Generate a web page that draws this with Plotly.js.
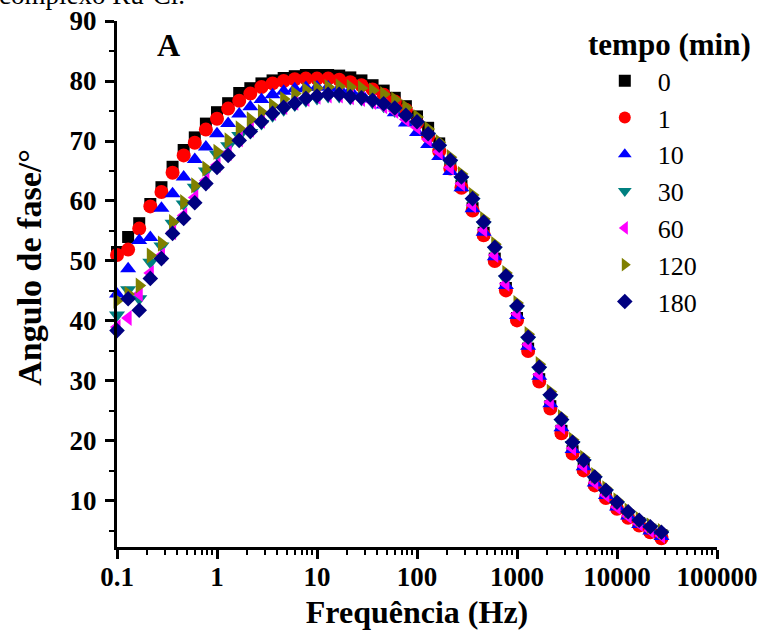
<!DOCTYPE html>
<html>
<head>
<meta charset="utf-8">
<script src="https://cdn.plot.ly/plotly-3.0.1.min.js"></script>
<style>html,body{margin:0;padding:0;background:#fff;}#chart{width:762px;height:630px;}</style>
</head>
<body>
<div id="chart"></div>
<script>
// Frequencies (Hz), 9 points per decade
var freq = [0.1, 0.1292, 0.1668, 0.2154, 0.2783, 0.3594, 0.4642, 0.5995, 0.7743,
  1, 1.292, 1.668, 2.154, 2.783, 3.594, 4.642, 5.995, 7.743,
  10, 12.92, 16.68, 21.54, 27.83, 35.94, 46.42, 59.95, 77.43,
  100, 129.2, 166.8, 215.4, 278.3, 359.4, 464.2, 599.5, 774.3,
  1000, 1292, 1668, 2154, 2783, 3594, 4642, 5995, 7743,
  10000, 12915, 16681, 21544, 27826];

var seriesNames = ["0", "1", "10", "30", "60", "120", "180"];

var phase0 = [51.5, 54.0, 56.3, 59.5, 62.3, 65.7, 68.5, 70.6, 72.9, 74.8,
  76.3, 78.0, 78.8, 79.6, 80.1, 80.5, 80.8, 81.0, 81.0, 81.0,
  80.9, 80.6, 80.1, 79.3, 78.4, 77.2, 75.8, 74.1, 72.2, 69.6,
  66.0, 62.5, 58.8, 54.7, 50.4, 45.5, 40.5, 35.4, 30.3, 25.8,
  21.7, 18.3, 15.5, 13.0, 10.9, 9.1, 7.6, 6.3, 5.2, 4.3];

var phase1 = [51.0, 51.9, 55.4, 59.1, 61.5, 64.7, 67.6, 69.7, 71.9, 73.7,
  75.4, 76.7, 77.9, 79.0, 79.6, 80.0, 80.3, 80.4, 80.4, 80.4,
  80.2, 79.8, 79.3, 78.6, 77.7, 76.6, 75.2, 73.0, 70.8, 68.3,
  65.4, 62.2, 58.4, 54.3, 50.0, 45.1, 40.1, 35.0, 29.9, 25.4,
  21.3, 17.9, 15.1, 12.6, 10.5, 8.7, 7.2, 5.9, 4.8, 3.8];

var phase10 = [44.5, 48.7, 53.4, 53.9, 58.8, 61.2, 64.0, 66.9, 69.0, 71.2,
  72.9, 74.5, 75.7, 76.9, 77.7, 78.3, 78.7, 78.9, 79.0, 79.0,
  78.8, 78.4, 77.8, 77.0, 76.0, 74.7, 73.0, 71.4, 69.4, 67.4,
  64.9, 62.2, 58.7, 54.8, 50.7, 45.9, 40.9, 35.8, 30.8, 26.2,
  22.2, 18.6, 15.7, 13.0, 10.9, 9.0, 7.5, 6.1, 5.0, 4.1];

var phase30 = [41.0, 45.2, 43.7, 49.8, 52.5, 56.3, 59.5, 62.3, 65.0, 67.8,
  69.2, 70.9, 71.4, 72.9, 74.2, 75.2, 76.0, 76.7, 77.1, 77.4,
  77.4, 77.1, 76.9, 76.4, 75.8, 75.0, 73.8, 72.7, 70.8, 68.8,
  66.3, 63.5, 59.9, 56.0, 51.8, 47.0, 42.0, 36.8, 31.8, 27.2,
  23.1, 19.4, 16.4, 13.6, 11.4, 9.4, 7.8, 6.5, 5.4, 4.5];

var phase60 = [39.0, 40.5, 44.5, 48.0, 50.9, 54.8, 57.6, 60.6, 63.4, 66.0,
  68.0, 70.3, 71.9, 73.4, 74.7, 75.7, 76.4, 77.0, 77.4, 77.6,
  77.6, 77.3, 77.0, 76.5, 75.8, 75.0, 73.6, 72.3, 70.3, 68.2,
  65.6, 62.9, 59.3, 55.2, 51.0, 46.2, 41.2, 36.1, 31.1, 26.5,
  22.4, 18.8, 15.8, 13.1, 11.0, 9.0, 7.5, 6.2, 5.1, 4.2];

var phase120 = [43.4, 44.5, 45.9, 50.9, 52.9, 56.5, 59.8, 62.6, 65.4, 68.2,
  70.1, 72.1, 73.6, 74.8, 75.9, 77.0, 77.9, 78.5, 78.8, 79.0,
  79.1, 79.0, 78.8, 78.4, 77.8, 76.9, 75.6, 74.0, 72.0, 69.8,
  67.3, 64.5, 61.0, 57.0, 52.8, 48.0, 43.0, 37.8, 32.8, 28.2,
  24.0, 20.2, 17.2, 14.3, 12.1, 10.1, 8.4, 7.0, 5.9, 5.0];

var phase180 = [38.4, 43.7, 41.8, 47.1, 50.4, 54.6, 57.1, 59.7, 62.9, 65.6,
  67.6, 70.1, 71.6, 73.2, 74.6, 75.6, 76.3, 77.1, 77.5, 77.8,
  77.8, 77.4, 77.2, 76.8, 76.2, 75.5, 74.3, 73.2, 71.2, 69.3,
  66.8, 64.0, 60.4, 56.5, 52.3, 47.5, 42.5, 37.3, 32.3, 27.7,
  23.6, 19.8, 16.8, 14.0, 11.8, 9.8, 8.2, 6.8, 5.7, 4.8];

var xTickVals = [0.1, 1, 10, 100, 1000, 10000, 100000];
var xTickText = ["0.1", "1", "10", "100", "1000", "10000", "100000"];
var yTickVals = [10, 20, 30, 40, 50, 60, 70, 80, 90];

var allPhases = [phase0, phase1, phase10, phase30, phase60, phase120, phase180];
var colors = ["#000000", "#ff0000", "#0000ff", "#008080", "#ff00ff", "#808000", "#000080"];
var symbols = ["square", "circle", "triangle-up", "triangle-down", "triangle-left", "triangle-right", "diamond"];
var sizes = [12, 14, 14, 14, 14, 14, 12];

var serif = "Liberation Serif";

var traces = allPhases.map(function (ph, i) {
  return {
    x: freq, y: ph, type: "scatter", mode: "markers",
    name: "\u00a0\u00a0" + seriesNames[i], legendgroup: "g" + i,
    marker: {symbol: symbols[i], color: colors[i], size: sizes[i], line: {width: 0}},
    cliponaxis: false
  };
});

var layout = {
  width: 762, height: 630,
  margin: {l: 117, r: 45, t: 21, b: 83},
  paper_bgcolor: "#fff", plot_bgcolor: "#fff",
  font: {family: serif, color: "#000"},
  showlegend: true,
  legend: {
    x: 0.813, xanchor: "left", y: 0.931, yanchor: "top",
    font: {family: serif, size: 26, color: "#000"},
    bgcolor: "rgba(0,0,0,0)", borderwidth: 0,
    traceorder: "grouped", tracegroupgap: 0, itemsizing: "constant"
  },
  xaxis: {
    type: "log", range: [-1, 5],
    showline: true, linewidth: 3, linecolor: "#000", mirror: false,
    showgrid: false, zeroline: false,
    ticks: "outside", ticklen: 9, tickwidth: 3, tickcolor: "#000",
    tickmode: "array", tickvals: xTickVals, ticktext: xTickText,
    tickfont: {family: serif, size: 27, color: "#000", weight: "bold"},
    ticklabelstandoff: -5,
    minor: {ticks: "outside", ticklen: 5, tickwidth: 2, tickcolor: "#000", dtick: "D1", showgrid: false},
    title: {text: "Frequência (Hz)", font: {family: serif, size: 32, color: "#000", weight: "bold"}, standoff: 16}
  },
  yaxis: {
    range: [2.33, 90],
    showline: true, linewidth: 3, linecolor: "#000", mirror: false,
    showgrid: false, zeroline: false,
    ticks: "outside", ticklen: 9, tickwidth: 3, tickcolor: "#000",
    tickmode: "array", tickvals: yTickVals,
    tickfont: {family: serif, size: 27, color: "#000", weight: "bold"},
    ticklabelstandoff: 3,
    minor: {ticks: "outside", ticklen: 5, tickwidth: 2, tickcolor: "#000", dtick: 5, tick0: 0, showgrid: false}
  },
  annotations: [
    {xref: "paper", yref: "paper", x: -0.145, y: 0.531, xanchor: "center", yanchor: "middle",
     textangle: -90, text: "<b>Angulo de fase/°</b>", showarrow: false,
     font: {family: serif, size: 34, color: "#000"}},
    {xref: "paper", yref: "paper", x: 0.085, y: 0.955, xanchor: "center", yanchor: "middle",
     text: "<b>A</b>", showarrow: false, font: {family: serif, size: 32, color: "#000"}},
    {xref: "paper", yref: "paper", x: 0.921, y: 0.955, xanchor: "center", yanchor: "middle",
     text: "<b>tempo (min)</b>", showarrow: false, font: {family: serif, size: 31, color: "#000"}},
    {xref: "paper", yref: "paper", x: -0.2, y: 1, xanchor: "left", yanchor: "bottom", yshift: 9,
     text: "complexo Ru-Cl.", showarrow: false, font: {family: serif, size: 27, color: "#000"}}
  ]
};

Plotly.newPlot("chart", traces, layout, {displayModeBar: false, staticPlot: true});
</script>
</body>
</html>
